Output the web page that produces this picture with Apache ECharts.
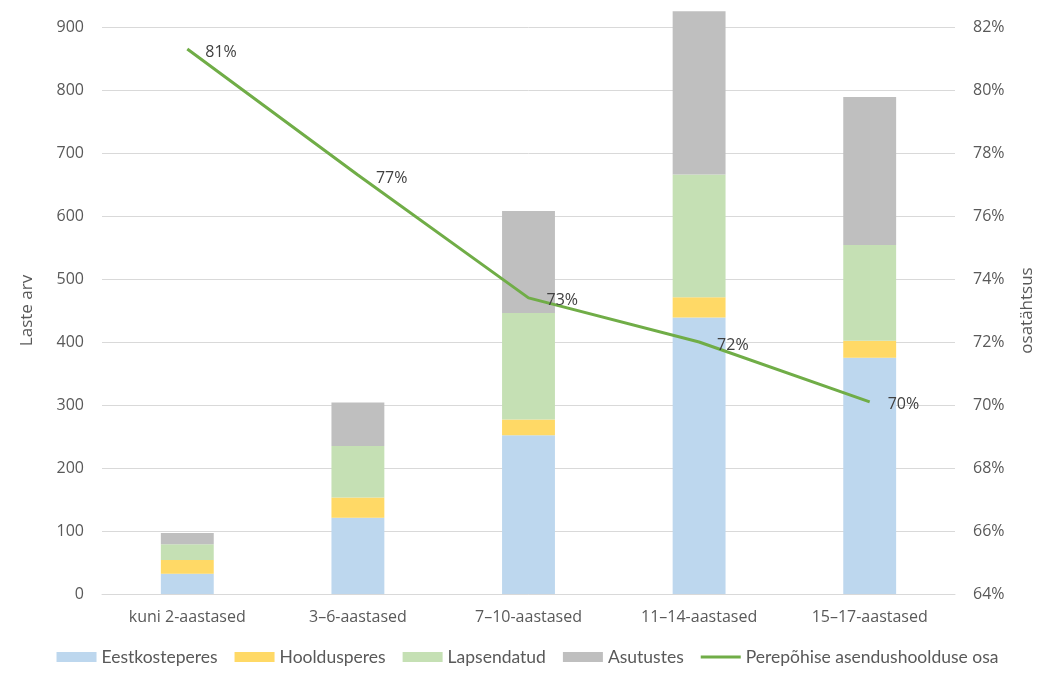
<!DOCTYPE html>
<html><head><meta charset="utf-8">
<script src="https://cdn.jsdelivr.net/npm/echarts@6/dist/echarts.min.js"></script>
<style>html,body{margin:0;padding:0;background:#fff}#c{width:1055px;height:682px}</style>
</head><body><div id="c"></div>
<script>
const categories = ['kuni 2-aastased', '3–6-aastased', '7–10-aastased', '11–14-aastased', '15–17-aastased'];
const eestkosteperes = [32, 121, 252, 439, 375];
const hooldusperes = [22, 32, 25, 32, 27];
const lapsendatud = [25, 82, 169, 195, 152];
const asutustes = [18, 69, 162, 259, 235];
const perepohiseOsa = [81.3, 77.3, 73.4, 72.0, 70.1];
const leftTicks = {min: 0, max: 900, interval: 100};
const rightTicks = {min: 64, max: 82, interval: 2};

const font = 'Open Sans';
const txt = '#595959';
const barW = '31%';
function bar(name, data, color) {
  return {name, type: 'bar', stack: 'a', data, barWidth: barW, clip: false,
    itemStyle: {color}, emphasis: {disabled: true}};
}
const chart = echarts.init(document.getElementById('c'));
chart.setOption({
  animation: false,
  textStyle: {fontFamily: font},
  grid: {left: 102, right: 100, top: 27, bottom: 88},
  legend: {
    bottom: 11, left: 'center', itemWidth: 40, itemHeight: 10, itemGap: 17,
    textStyle: {fontFamily: 'Lato', fontSize: 17.5, color: txt},
    data: [
      {name: 'Eestkosteperes', icon: 'rect'},
      {name: 'Hooldusperes', icon: 'rect'},
      {name: 'Lapsendatud', icon: 'rect'},
      {name: 'Asutustes', icon: 'rect'},
      {name: 'Perepõhise asendushoolduse osa', icon: 'path://M0,4L40,4L40,7L0,7Z'}
    ]
  },
  xAxis: {
    type: 'category', data: categories,
    axisLine: {lineStyle: {color: '#d9d9d9'}}, axisTick: {show: false},
    axisLabel: {color: txt, fontSize: 16, margin: 15, fontFamily: font}
  },
  yAxis: [
    {type: 'value', min: leftTicks.min, max: leftTicks.max, interval: leftTicks.interval,
      name: 'Laste arv', nameLocation: 'middle', nameGap: 66, nameRotate: 90,
      nameTextStyle: {color: txt, fontSize: 17, fontFamily: font},
      axisLabel: {color: txt, fontSize: 16, margin: 18},
      splitLine: {lineStyle: {color: '#d9d9d9', width: 1}},
      axisLine: {show: false}, axisTick: {show: false}},
    {type: 'value', min: rightTicks.min, max: rightTicks.max, interval: rightTicks.interval,
      name: 'osatähtsus', nameLocation: 'middle', nameGap: 64, nameRotate: 90,
      nameTextStyle: {color: txt, fontSize: 17, fontFamily: font},
      axisLabel: {color: txt, fontSize: 16, margin: 18, formatter: '{value}%'},
      splitLine: {show: false}, axisLine: {show: false}, axisTick: {show: false}}
  ],
  series: [
    bar('Eestkosteperes', eestkosteperes, '#BDD7EE'),
    bar('Hooldusperes', hooldusperes, '#FFD966'),
    bar('Lapsendatud', lapsendatud, '#C5E0B4'),
    bar('Asutustes', asutustes, '#BFBFBF'),
    {name: 'Perepõhise asendushoolduse osa', type: 'line', yAxisIndex: 1, data: perepohiseOsa,
      symbol: 'circle', symbolSize: 0, showSymbol: true, z: 5,
      lineStyle: {color: '#70AD47', width: 3}, itemStyle: {color: '#70AD47'},
      label: {show: true, position: 'right', distance: 18, offset: [0, 3], color: '#404040', fontSize: 16,
        formatter: p => Math.round(p.value) + '%'}}
  ]
});
</script></body></html>
